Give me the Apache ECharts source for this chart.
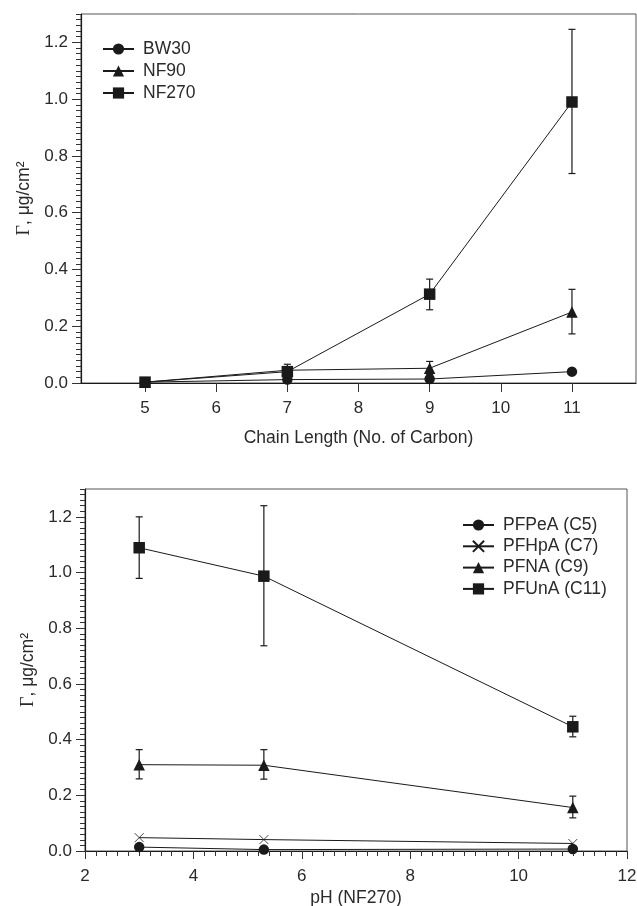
<!DOCTYPE html>
<html>
<head>
<meta charset="utf-8">
<script src="https://cdn.jsdelivr.net/npm/echarts@6/dist/echarts.min.js"></script>
<style>html,body{margin:0;padding:0;background:#fff;}#c{width:637px;height:906px;}</style>
</head>
<body>
<div id="c"></div>
<script>
// ---- Top panel data ----
const chainLength = [5, 7, 9, 11];
const bw30 = [0.003, 0.012, 0.014, 0.040];
const nf90 = [0.003, 0.045, 0.052, 0.250];
const nf270 = [0.003, 0.040, 0.313, 0.990];
const nf90ErrLow = [null, 0.025, 0.030, 0.173];
const nf90ErrHigh = [null, 0.066, 0.076, 0.330];
const nf270ErrLow = [null, null, 0.258, 0.738];
const nf270ErrHigh = [null, null, 0.366, 1.246];
const topXTicks = [5, 6, 7, 8, 9, 10, 11];

// ---- Bottom panel data ----
const pH = [3, 5.3, 11];
const pfpea = [0.014, 0.005, 0.007];
const pfhpa = [0.048, 0.041, 0.027];
const pfna = [0.310, 0.308, 0.156];
const pfnaErrLow = [0.259, 0.258, 0.119];
const pfnaErrHigh = [0.364, 0.364, 0.197];
const pfuna = [1.089, 0.987, 0.446];
const pfunaErrLow = [0.979, 0.737, 0.410];
const pfunaErrHigh = [1.200, 1.240, 0.484];
const yTicks = [0, 0.2, 0.4, 0.6, 0.8, 1.0, 1.2];

const FONT = 'Liberation Sans';
const INK = '#1a1a1a';
const TXT = '#2a2a2a';

function pairs(xs, ys) { return xs.map((x, i) => [x, ys[i]]); }
function errData(xs, lo, hi) {
  const out = [];
  xs.forEach((x, i) => { if (lo[i] != null) out.push([x, lo[i], hi[i]]); });
  return out;
}
function errSeries(xs, lo, hi, xi, yi) {
  return {
    type: 'custom', xAxisIndex: xi, yAxisIndex: yi, z: 1, silent: true,
    encode: { x: 0, y: [1, 2] },
    data: errData(xs, lo, hi),
    renderItem: function (params, api) {
      const x = api.value(0);
      const a = api.coord([x, api.value(1)]);
      const b = api.coord([x, api.value(2)]);
      const w = 3.5;
      const st = { stroke: INK, lineWidth: 1.2 };
      return { type: 'group', children: [
        { type: 'line', shape: { x1: a[0], y1: a[1], x2: b[0], y2: b[1] }, style: st },
        { type: 'line', shape: { x1: a[0] - w, y1: a[1], x2: a[0] + w, y2: a[1] }, style: st },
        { type: 'line', shape: { x1: b[0] - w, y1: b[1], x2: b[0] + w, y2: b[1] }, style: st }
      ]};
    }
  };
}
function lineSeries(name, data, symbol, size, xi, yi, extra) {
  return Object.assign({
    type: 'line', name: name, data: data, xAxisIndex: xi, yAxisIndex: yi,
    symbol: symbol, symbolSize: size, z: 3,
    lineStyle: { color: INK, width: 1 },
    itemStyle: { color: INK }
  }, extra || {});
}
const xSym = 'path://M0,0L10,10M10,0L0,10';

function minorY(gi) {
  return {
    type: 'value', gridIndex: gi, position: 'left', offset: 0, min: 0, max: 1.3, interval: 0.02,
    axisLine: { show: true, onZero: false, lineStyle: { color: INK, width: 1.2 } },
    axisTick: { show: true, length: 5, lineStyle: { color: '#333', width: 1 } },
    axisLabel: { show: false }, splitLine: { show: false }
  };
}
function majorY(gi, gap) {
  return {
    type: 'value', gridIndex: gi, position: 'left', offset: 0, min: 0, max: 1.3,
    name: '{g|Γ}, μg/cm²', nameLocation: 'middle', nameGap: gap, nameRotate: 90,
    nameTextStyle: { fontFamily: FONT, fontSize: 17.5, color: TXT,
      rich: { g: { fontFamily: 'Liberation Serif', fontSize: 18, color: TXT } } },
    axisLine: { show: false, onZero: false },
    axisTick: { show: true, length: 9, customValues: yTicks, lineStyle: { color: '#333', width: 1 } },
    axisLabel: { show: true, customValues: yTicks, margin: 13, fontFamily: FONT, fontSize: 17, color: TXT,
      formatter: v => v.toFixed(1) },
    splitLine: { show: false }
  };
}
const legendText = { fontFamily: FONT, fontSize: 17.5, color: TXT, padding: [0, 0, 0, 4] };

const option = {
  animation: false,
  backgroundColor: '#fff',
  grid: [
    { left: 81, top: 14, width: 555, height: 369, show: true, borderColor: '#555', borderWidth: 1,
      containLabel: false, outerBoundsMode: 'none' },
    { left: 85, top: 489, width: 542, height: 362, show: true, borderColor: '#555', borderWidth: 1,
      containLabel: false, outerBoundsMode: 'none' }
  ],
  legend: [
    { data: ['BW30', 'NF90', 'NF270'], orient: 'vertical', left: 102, top: 40, padding: 0,
      itemWidth: 31, itemHeight: 14, itemGap: 4, textStyle: legendText },
    { data: ['PFPeA (C5)', 'PFHpA (C7)', 'PFNA (C9)', 'PFUnA (C11)'], orient: 'vertical', left: 462, top: 516, padding: 0,
      itemWidth: 31, itemHeight: 14, itemGap: 3.3, textStyle: legendText }
  ],
  xAxis: [
    { type: 'value', gridIndex: 0, min: 4.1, max: 11.9,
      name: 'Chain Length (No. of Carbon)', nameLocation: 'middle', nameGap: 46,
      nameTextStyle: { fontFamily: FONT, fontSize: 17.5, color: TXT },
      axisLine: { onZero: false, lineStyle: { color: INK, width: 1.2 } },
      axisTick: { show: true, length: 9, customValues: topXTicks, lineStyle: { color: '#333' } },
      axisLabel: { customValues: topXTicks, margin: 17, fontFamily: FONT, fontSize: 17, color: TXT },
      splitLine: { show: false } },
    { type: 'value', gridIndex: 1, min: 2, max: 12, interval: 2,
      name: 'pH (NF270)', nameLocation: 'middle', nameGap: 38,
      nameTextStyle: { fontFamily: FONT, fontSize: 17.5, color: TXT },
      axisLine: { onZero: false, lineStyle: { color: INK, width: 1.2 } },
      axisTick: { show: true, length: 8, lineStyle: { color: '#333' } },
      minorTick: { show: true, splitNumber: 10, length: 5, lineStyle: { color: '#333' } },
      axisLabel: { margin: 17, fontFamily: FONT, fontSize: 17, color: TXT },
      splitLine: { show: false } }
  ],
  yAxis: [minorY(0), majorY(0, 44), minorY(1), majorY(1, 48)],
  series: [
    errSeries(chainLength, nf90ErrLow, nf90ErrHigh, 0, 0),
    errSeries(chainLength, nf270ErrLow, nf270ErrHigh, 0, 0),
    lineSeries('BW30', pairs(chainLength, bw30), 'circle', 10.5, 0, 0),
    lineSeries('NF90', pairs(chainLength, nf90), 'triangle', 11.5, 0, 0),
    lineSeries('NF270', pairs(chainLength, nf270), 'rect', 11.5, 0, 0),

    errSeries(pH, pfnaErrLow, pfnaErrHigh, 1, 2),
    errSeries(pH, pfunaErrLow, pfunaErrHigh, 1, 2),
    lineSeries('PFPeA (C5)', pairs(pH, pfpea), 'circle', 10.5, 1, 2),
    lineSeries('PFHpA (C7)', pairs(pH, pfhpa), xSym, 9, 1, 2,
      { itemStyle: { color: INK, borderColor: INK, borderWidth: 0.8 } }),
    lineSeries('PFNA (C9)', pairs(pH, pfna), 'triangle', 11.5, 1, 2),
    lineSeries('PFUnA (C11)', pairs(pH, pfuna), 'rect', 11.5, 1, 2)
  ]
};
const chart = echarts.init(document.getElementById('c'), null, { renderer: 'canvas' });
chart.setOption(option);
</script>
</body>
</html>
